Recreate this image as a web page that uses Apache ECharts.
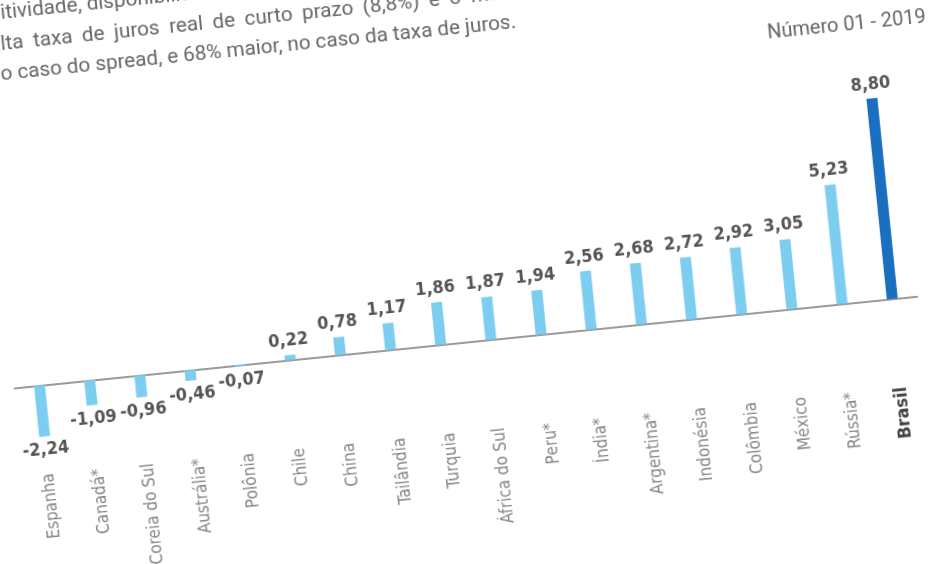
<!DOCTYPE html>
<html>
<head>
<meta charset="utf-8">
<script src="https://cdn.jsdelivr.net/npm/echarts@6/dist/echarts.min.js"></script>
<style>
  html, body { margin: 0; padding: 0; width: 938px; height: 564px; overflow: hidden; background: #ffffff; }
  #wrap { position: absolute; left: -60px; top: -100px; width: 1058px; height: 764px; transform: rotate(-5.8deg); transform-origin: 50% 50%; }
  #chart { position: absolute; left: 0; top: 0; width: 1058px; height: 764px; }
  .line { position: absolute; white-space: nowrap; font-family: Roboto, 'Open Sans', sans-serif; font-size: 20.7px; line-height: 21px; color: #666; }
</style>
</head>
<body>
<div id="wrap"><div id="chart"></div></div>
<script>
// ---- data ----
var categories = ['Espanha', 'Canadá*', 'Coreia do Sul', 'Austrália*', 'Polônia', 'Chile', 'China', 'Tailândia', 'Turquia', 'África do Sul', 'Peru*', 'Índia*', 'Argentina*', 'Indonésia', 'Colômbia', 'México', 'Rússia*', 'Brasil'];
var values = [-2.24, -1.09, -0.96, -0.46, -0.07, 0.22, 0.78, 1.17, 1.86, 1.87, 1.94, 2.56, 2.68, 2.72, 2.92, 3.05, 5.23, 8.80];
var highlight = 'Brasil';
var textLines = [
  'itividade, disponibilidade',
  'lta taxa de juros real de curto prazo (8,8%) e o maior',
  'o caso do spread, e 68% maior, no caso da taxa de juros.'
];
var issueLabel = 'Número 01 - 2019';

// ---- styles ----
var LIGHT = '#7dcdf0';
var DARK = '#1a6fbf';
var NARROW = "'DejaVu Sans Condensed', 'DejaVu Sans', sans-serif";
var SANS = "Roboto, 'Open Sans', sans-serif";

// paragraph text (justified lines, partly cut off by the page edge)
var lineTop = [56, 87, 117];
var lineLeft = [90, 87, 84];
var lineWordSpacing = [0, 4.5, 0];
var wrap = document.getElementById('wrap');
textLines.forEach(function (t, i) {
  var d = document.createElement('div');
  d.className = 'line';
  d.style.left = lineLeft[i] + 'px';
  d.style.top = lineTop[i] + 'px';
  d.style.wordSpacing = lineWordSpacing[i] + 'px';
  d.textContent = t;
  wrap.appendChild(d);
});

var chart = echarts.init(document.getElementById('chart'));

var seriesData = values.map(function (v, i) {
  var isHi = categories[i] === highlight;
  return {
    value: v,
    itemStyle: { color: isHi ? DARK : LIGHT },
    label: { position: v < 0 ? 'bottom' : 'top' }
  };
});

chart.setOption({
  animation: false,
  backgroundColor: 'transparent',
  grid: { left: 66, top: 235.4, width: 907.6, height: 293.1, containLabel: false },
  xAxis: {
    type: 'category',
    data: categories,
    axisLine: { onZero: true, lineStyle: { color: '#7a7a7a', width: 1.5 } },
    axisTick: { show: false },
    splitLine: { show: false },
    axisLabel: {
      rotate: 90,
      margin: 1.5,
      interval: 0,
      formatter: function (v) { return v === highlight ? '{b|' + v + '}' : '{n|' + v + '}'; },
      rich: {
        n: { fontFamily: NARROW, fontSize: 17, color: '#868686' },
        b: { fontFamily: NARROW, fontWeight: 'bold', fontSize: 18, color: '#444' }
      }
    }
  },
  yAxis: {
    type: 'value', min: -3.8, max: 9,
    show: false, splitLine: { show: false }
  },
  graphic: [{
    type: 'text', left: 851, top: 155,
    style: { text: issueLabel, fill: '#666', font: '20px ' + SANS }
  }],
  series: [{
    type: 'bar',
    data: seriesData,
    barWidth: 11,
    label: {
      show: true,
      distance: 5,
      fontFamily: NARROW,
      fontWeight: 'bold',
      fontSize: 18,
      color: '#555',
      formatter: function (p) { return p.value.toFixed(2).replace('.', ','); }
    }
  }]
});
</script>
</body>
</html>
